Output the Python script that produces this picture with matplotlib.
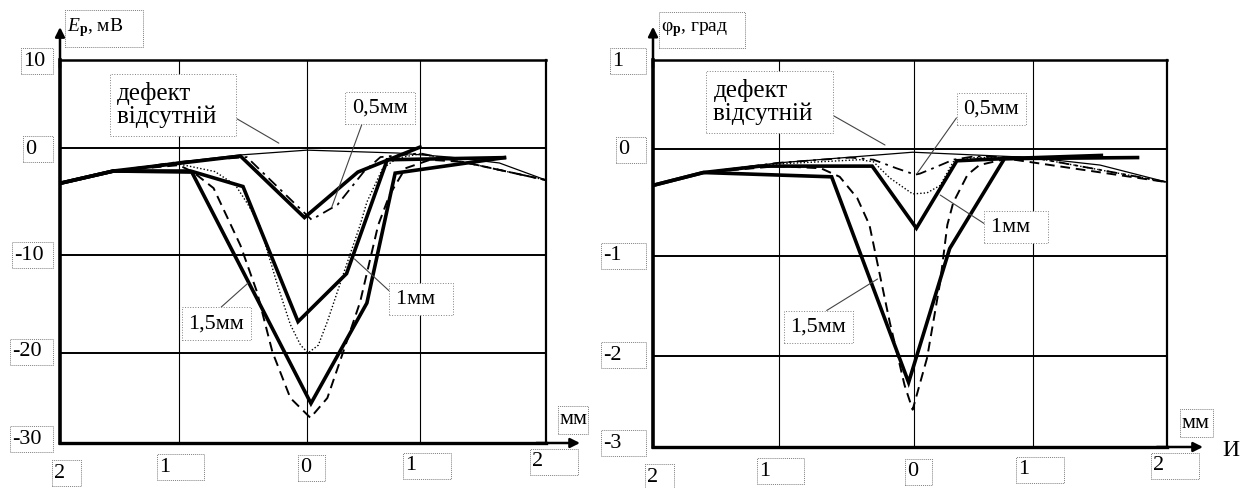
import numpy as np
import matplotlib
matplotlib.use("Agg")
import matplotlib.pyplot as plt
from matplotlib.patches import Rectangle
from matplotlib.transforms import IdentityTransform

plt.rcParams['font.family'] = ['Liberation Serif', 'DejaVu Serif']
plt.rcParams['mathtext.fontset'] = 'custom'
plt.rcParams['mathtext.rm'] = 'Liberation Serif'
plt.rcParams['mathtext.it'] = 'Liberation Serif:italic'
plt.rcParams['mathtext.bf'] = 'Liberation Serif:bold'

# ---- axes ticks (the drawing has uneven tick spacing, kept via knot scales) ----
x_ticks = [-2, -1, 0, 1, 2]
x_labels = ["2", "1", "0", "1", "2"]
e_ticks = [-30, -20, -10, 0, 10]
e_labels = ["-30", "-20", "-10", "0", "10"]
f_ticks = [-3, -2, -1, 0, 1]
f_labels = ["-3", "-2", "-1", "0", "1"]

# ---- left panel: E_p, mV ----
e_nodef_x = [-2, -1.55, -1, -0.52, 0, 0.8, 1.24, 1.63, 2]
e_nodef_y = [-3.3, -2.15, -1.3, -0.65, -0.2, -0.47, -0.85, -1.4, -3.0]

e_05_x = [-2, -1.55, -0.52, -0.02, 0.45, 1.0]
e_05_y = [-3.3, -2.15, -0.75, -6.5, -2.25, 0.1]
e_1_x = [-2, -1.55, -0.91, -0.5, -0.07, 0.35, 0.71, 1.67]
e_1_y = [-3.3, -2.15, -2.15, -3.6, -16.8, -11.9, -1.1, -0.9]
e_15_x = [-2, -1.55, -0.9, 0.035, 0.53, 0.78, 1.67]
e_15_y = [-3.3, -2.15, -2.25, -25.6, -14.9, -2.35, -0.9]

e_05c_x = [-2, -1.55, -1, -0.47, -0.19, 0.04, 0.27, 0.5, 0.65, 1, 1.34, 2]
e_05c_y = [-3.3, -2.15, -1.3, -0.85, -4.1, -6.7, -5.3, -2.25, -0.85, -0.5, -1.3, -3.0]
e_1c_x = [-2, -1.55, -1, -0.72, -0.56, -0.46, -0.37, -0.23, -0.13, -0.05, 0.01,
          0.1, 0.18, 0.32, 0.47, 0.53, 0.67, 0.8, 1, 1.34, 2]
e_1c_y = [-3.3, -2.15, -1.5, -2.2, -3.45, -5.3, -7.2, -13.1, -17.1, -19.2, -20.0,
          -19.2, -16.8, -12.0, -7.2, -5.05, -1.9, -0.95, -0.55, -1.3, -3.0]
e_15c_x = [-2, -1.55, -1, -0.89, -0.73, -0.52, -0.39, -0.27, -0.13, 0.03, 0.18,
           0.32, 0.47, 0.63, 0.73, 0.87, 1.08, 1.34, 2]
e_15c_y = [-3.3, -2.15, -1.6, -2.25, -3.75, -9.1, -13.8, -19.9, -25.0, -27.2, -25.0,
           -19.9, -14.8, -7.2, -4.4, -1.9, -1.1, -1.3, -3.0]

# ---- right panel: phi_p, deg ----
f_nodef_x = [-2, -1.6, -1.01, -0.01, 1.0, 1.5, 2.0]
f_nodef_y = [-0.34, -0.22, -0.13, -0.03, -0.08, -0.15, -0.31]

f_1_x = [-2, -1.6, -1.15, -0.31, 0.02, 0.36, 0.76, 1.78]
f_1_y = [-0.34, -0.22, -0.16, -0.16, -0.74, -0.11, -0.09, -0.08]
f_15_x = [-2, -1.6, -0.61, -0.04, 0.3, 0.76, 1.51]
f_15_y = [-0.34, -0.22, -0.26, -2.29, -0.93, -0.09, -0.06]

f_05c_x = [-2, -1.6, -1.01, -0.47, -0.3, -0.13, 0.01, 0.05, 0.16, 0.33, 0.5, 1.0, 2.0]
f_05c_y = [-0.34, -0.22, -0.13, -0.08, -0.1, -0.18, -0.24, -0.23, -0.18, -0.1, -0.07, -0.08, -0.31]
f_1c_x = [-2, -1.6, -1.01, -0.4, -0.3, -0.18, -0.01, 0.11, 0.22, 0.33, 0.5, 1.0, 2.0]
f_1c_y = [-0.34, -0.22, -0.14, -0.1, -0.12, -0.27, -0.42, -0.41, -0.34, -0.12, -0.08, -0.08, -0.31]
f_15c_x = [-2, -1.6, -1.01, -0.69, -0.55, -0.42, -0.33, -0.18, -0.07, -0.01, 0.11,
           0.22, 0.28, 0.33, 0.45, 0.55, 0.78, 2.0]
f_15c_y = [-0.34, -0.22, -0.16, -0.18, -0.26, -0.46, -0.71, -1.66, -2.32, -2.59, -2.02,
           -1.26, -0.71, -0.5, -0.24, -0.15, -0.09, -0.31]

# relative tick spacing of the original drawing (pixels between tick lines)
e_xknots = [0, 119, 247, 360, 486]
e_yknots = [0, 90, 188, 295, 383]
f_xknots = [0, 126, 261, 380, 514]
f_yknots = [0, 91, 191, 298, 387]


def knot_scale(data, pos):
    def make(a, b):
        a = np.asarray(a, float)
        b = np.asarray(b, float)

        def f(v):
            v = np.asarray(v, float)
            mid = np.interp(v, a, b)
            lo = b[0] + (v - a[0]) * (b[1] - b[0]) / (a[1] - a[0])
            hi = b[-1] + (v - a[-1]) * (b[-1] - b[-2]) / (a[-1] - a[-2])
            return np.where(v < a[0], lo, np.where(v > a[-1], hi, mid))
        return f
    return make(data, pos), make(pos, data)


fig = plt.figure(figsize=(12.4, 4.88), dpi=100)
H = 488
axL = fig.add_axes([60 / 1240, 45 / 488, 486 / 1240, 383 / 488])
axR = fig.add_axes([653 / 1240, 41 / 488, 514 / 1240, 387 / 488])


def boxed(x, ytop, s, w, h=26, size=16, dx=2):
    # x = left edge, ytop = centre, both in pixels from the top-left corner
    y = H - ytop
    fig.add_artist(Rectangle((x, y - h / 2), w, h, transform=IdentityTransform(),
                             fc='white', ec='#808080', lw=0.7, ls=(0, (1, 1))))
    fig.text(x + dx, y, s, transform=IdentityTransform(), ha='left', va='center',
             fontsize=size)


def setup(ax, xk, yt, xknots, yknots):
    ax.set_xscale('function', functions=knot_scale(xk, xknots))
    ax.set_yscale('function', functions=knot_scale(yt, yknots))
    ax.set_xlim(xk[0], xk[-1])
    ax.set_ylim(yt[0], yt[-1])
    ax.set_xticks([])
    ax.set_yticks([])
    for v in xk[1:-1]:
        ax.axvline(v, color='k', lw=0.8, zorder=1)
    for v in yt[1:-1]:
        ax.axhline(v, color='k', lw=1.4, zorder=1)
    ax.spines['left'].set_linewidth(2.6)
    ax.spines['bottom'].set_linewidth(2.4)
    ax.spines['top'].set_linewidth(1.8)
    ax.spines['right'].set_linewidth(1.6)
    ap = dict(arrowstyle='-|>', color='k', lw=1.8, mutation_scale=14, shrinkA=0, shrinkB=0)
    ax.annotate('', xy=(0, 1.086), xytext=(0, 0.98), xycoords='axes fraction', arrowprops=ap,
                annotation_clip=False)
    ax.annotate('', xy=(1.07, 0), xytext=(0.98, 0), xycoords='axes fraction', arrowprops=ap,
                annotation_clip=False)


def tick_labels(ax, xk, xl, yt, yl, ywidths):
    x_dx = [-8, -22, -9, -17, -16]
    x_dy = [30, 24, 25, 23, 19]
    x_w = [29, 47, 27, 48, 48]
    for i, (v, s) in enumerate(zip(xk, xl)):
        px, py = ax.transData.transform((v, yt[0]))
        boxed(px + x_dx[i], H - py + x_dy[i], s, x_w[i])
    y_dy = [-4, -1, 0, 1, 1]
    for i, (v, s) in enumerate(zip(yt, yl)):
        px, py = ax.transData.transform((xk[0], v))
        boxed(px - 7 - ywidths[i], H - py + y_dy[i], s, ywidths[i])


thick = dict(color='k', lw=2.6, solid_joinstyle='miter', zorder=4)
thin = dict(color='k', lw=0.9, zorder=3)
dashdot = dict(color='k', lw=1.3, dashes=(6, 3, 1.5, 3), zorder=3)
dotted = dict(color='k', lw=1.0, linestyle=(0, (1, 1.5)), zorder=3)
dashed = dict(color='k', lw=1.4, dashes=(5, 3), zorder=3)
tbox = dict(boxstyle='square,pad=0.3', fc='white', ec='#808080', lw=0.7, ls=':')


def lead(rel):
    return dict(arrowstyle='-', color='#444444', lw=0.8, relpos=rel, shrinkA=0, shrinkB=0)


# ---------------- left panel ----------------
setup(axL, x_ticks, e_ticks, e_xknots, e_yknots)
axL.plot(e_nodef_x, e_nodef_y, **thin)
axL.plot(e_05c_x, e_05c_y, **dashdot)
axL.plot(e_1c_x, e_1c_y, **dotted)
axL.plot(e_15c_x, e_15c_y, **dashed)
axL.plot(e_05_x, e_05_y, **thick)
axL.plot(e_1_x, e_1_y, **thick)
axL.plot(e_15_x, e_15_y, **thick)

axL.annotate("дефект\nвідсутній  ", xy=(-0.22, 0.55), xytext=(-1.52, 4.9), ha='left', va='center',
             fontsize=18, linespacing=1.05, bbox=tbox, arrowprops=lead((1, 0.3)), zorder=6)
axL.annotate("0,5мм", xy=(0.22, -5.5), xytext=(0.646, 4.55), ha='center', va='center',
             fontsize=16, bbox=tbox, arrowprops=lead((0.22, 0)), zorder=6)
axL.annotate("1мм  ", xy=(0.42, -10.4), xytext=(1.01, -14.5), ha='center', va='center',
             fontsize=16, bbox=tbox, arrowprops=lead((0, 0.6)), zorder=6)
axL.annotate("1,5мм", xy=(-0.46, -12.86), xytext=(-0.71, -17.0), ha='center', va='center',
             fontsize=16, bbox=tbox, arrowprops=lead((0.45, 1)), zorder=6)

tick_labels(axL, x_ticks, x_labels, e_ticks, e_labels, [43, 43, 41, 30, 32])
boxed(65, 28, r"$E_{\mathbf{р}}$, мВ", 78, h=37, size=14)
boxed(558, 420, "мм", 30, h=28)

# ---------------- right panel ----------------
setup(axR, x_ticks, f_ticks, f_xknots, f_yknots)
axR.plot(f_nodef_x, f_nodef_y, **thin)
axR.plot(f_05c_x, f_05c_y, **dashdot)
axR.plot(f_1c_x, f_1c_y, **dotted)
axR.plot(f_15c_x, f_15c_y, **dashed)
axR.plot(f_1_x, f_1_y, **thick)
axR.plot(f_15_x, f_15_y, **thick)

axR.annotate("дефект\nвідсутній  ", xy=(-0.215, 0.045), xytext=(-1.52, 0.53), ha='left', va='center',
             fontsize=18, linespacing=1.05, bbox=tbox, arrowprops=lead((1, 0.3)), zorder=6)
axR.annotate("0,5мм", xy=(0.025, -0.23), xytext=(0.65, 0.45), ha='center', va='center',
             fontsize=16, bbox=tbox, arrowprops=lead((0, 0.55)), zorder=6)
axR.annotate("1мм  ", xy=(0.22, -0.43), xytext=(0.86, -0.73), ha='center', va='center',
             fontsize=16, bbox=tbox, arrowprops=lead((0, 0.45)), zorder=6)
axR.annotate("1,5мм", xy=(-0.27, -1.23), xytext=(-0.71, -1.71), ha='center', va='center',
             fontsize=16, bbox=tbox, arrowprops=lead((0.45, 1)), zorder=6)

tick_labels(axR, x_ticks, x_labels, f_ticks, f_labels, [45, 45, 45, 30, 36])
boxed(659, 30, r"$\mathrm{φ}_{\mathbf{р}}$, град", 86, h=36, size=14)
boxed(1180, 423, "мм", 33, h=28)
fig.text(1222, H - 450, "И", transform=IdentityTransform(), ha='left', va='center', fontsize=17)

fig.savefig("out.png", dpi=100)
